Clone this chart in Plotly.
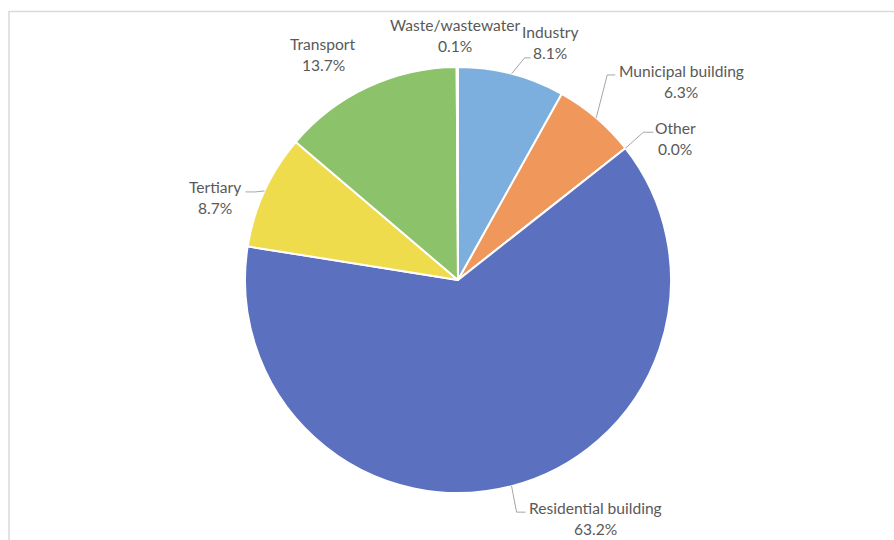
import math
import plotly.graph_objects as go

# Energy consumption share by sector
labels = ["Industry", "Municipal building", "Other", "Residential building",
          "Tertiary", "Transport", "Waste/wastewater"]
values = [8.1, 6.3, 0.0, 63.2, 8.7, 13.7, 0.1]
colors = ["#7DAFDE", "#F0975B", "#A5A5A5", "#5B71BF", "#EFDC4D", "#8CC26A", "#4A7FC0"]

W, H = 894, 540
CX, CY, R = 458, 280, 213

# label placement relative to the slice's edge point: (elbow, end of leader, text centre)
label_layout = {
    "Industry": ((13, -16), (19, -16), (38, -31)),
    "Municipal building": ((11, -43), (19, -43), (85, -36)),
    "Other": ((18, -16), (28, -16), (50, -9.5)),
    "Residential building": ((5, 26), (14, 26), (84, 32)),
    "Tertiary": ((-9, 1), (-19, 1), (-50, 6.5)),
    "Transport": (None, None, (-45, -32)),
    "Waste/wastewater": (None, None, (-2, -31.5)),
}

fig = go.Figure()
fig.add_trace(go.Pie(
    labels=labels, values=values, sort=False, direction="clockwise", rotation=0,
    marker=dict(colors=colors, line=dict(color="white", width=2)),
    textinfo="none", hoverinfo="label+percent", showlegend=False,
    domain=dict(x=[(CX - R) / W, (CX + R) / W], y=[(H - CY - R) / H, (H - CY + R) / H]),
))

total = sum(values)
shapes = []
annotations = []
text_font = dict(family="Lato, 'Open Sans', sans-serif", size=15.6, color="#595959")
cum = 0.0
for lab, v in zip(labels, values):
    mid = (cum + v / 2) / total * 2 * math.pi
    cum += v
    ax = CX + R * math.sin(mid)
    ay = CY - R * math.cos(mid)
    elbow, end, txt = label_layout[lab]
    if elbow is not None:
        path = f"M {ax},{ay} L {ax + elbow[0]},{ay + elbow[1]} L {ax + end[0]},{ay + end[1]}"
        shapes.append(dict(type="path", xref="x", yref="y", path=path,
                           line=dict(color="#A6A6A6", width=1)))
    tx, ty = ax + txt[0], ay + txt[1]
    annotations.append(dict(x=tx, y=ty - 10.5, xref="x", yref="y", text=lab,
                            showarrow=False, xanchor="center", yanchor="middle", font=text_font))
    annotations.append(dict(x=tx, y=ty + 10.5, xref="x", yref="y", text=f"{v:.1f}%",
                            showarrow=False, xanchor="center", yanchor="middle", font=text_font))

# chart frame (left and top edges)
shapes.append(dict(type="path", xref="x", yref="y", path=f"M 9,{H} L 9,11.5 L {W},11.5",
                   line=dict(color="#D9D9D9", width=1.5)))

fig.update_layout(
    width=W, height=H, margin=dict(l=0, r=0, t=0, b=0),
    paper_bgcolor="white", plot_bgcolor="rgba(0,0,0,0)",
    xaxis=dict(range=[0, W], visible=False, fixedrange=True),
    yaxis=dict(range=[H, 0], visible=False, fixedrange=True),
    shapes=shapes, annotations=annotations,
)

fig.write_html("out.html")
